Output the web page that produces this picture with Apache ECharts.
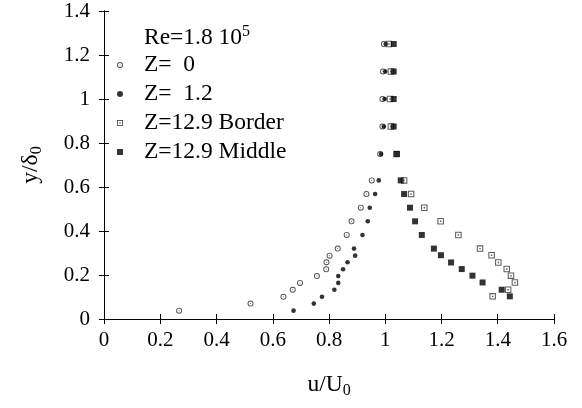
<!DOCTYPE html>
<html>
<head>
<meta charset="utf-8">
<script src="https://cdn.jsdelivr.net/npm/echarts@6/dist/echarts.min.js"></script>
<style>
  html, body { margin: 0; padding: 0; background: #fff; }
  #chart { width: 582px; height: 408px; }
</style>
</head>
<body>
<div id="chart"></div>
<script>
// y levels of the profiles (y/delta0)
const yCircles = [0.038, 0.070, 0.101, 0.133, 0.164, 0.195, 0.226, 0.258, 0.288, 0.320,
  0.382, 0.444, 0.506, 0.568, 0.630, 0.75, 0.875, 1.0, 1.125, 1.25]
const uZ0 = [0.267, 0.521, 0.638, 0.671, 0.697, 0.757, 0.790, 0.791, 0.802, 0.831,
  0.863, 0.880, 0.913, 0.933, 0.952, 0.982, 0.99, 0.99, 0.992, 0.995]
const uZ12 = [0.674, 0.746, 0.775, 0.819, 0.833, 0.833, 0.850, 0.866, 0.893, 0.889,
  0.919, 0.938, 0.945, 0.964, 0.977, 0.985, 0.995, 0.998, 1.0, 1.002]

const ySquares = [0.103, 0.133, 0.166, 0.197, 0.227, 0.257, 0.290, 0.320, 0.382,
  0.444, 0.506, 0.568, 0.630, 0.75, 0.875, 1.0, 1.125, 1.25]
const uBorder = [1.382, 1.437, 1.461, 1.447, 1.432, 1.402, 1.378, 1.337, 1.26,
  1.197, 1.139, 1.092, 1.067, 1.04, 1.02, 1.017, 1.02, 1.013]
const uMiddle = [1.443, 1.414, 1.346, 1.310, 1.272, 1.234, 1.198, 1.173, 1.130,
  1.106, 1.088, 1.067, 1.055, 1.041, 1.03, 1.03, 1.03, 1.03]

const xTicks = [0, 0.2, 0.4, 0.6, 0.8, 1, 1.2, 1.4, 1.6]
const yTicks = [0, 0.2, 0.4, 0.6, 0.8, 1, 1.2, 1.4]
const seriesNames = ['Z=  0', 'Z=  1.2', 'Z=12.9 Border', 'Z=12.9 Middle']

const font = 'Liberation Serif'
const fs = 21      // tick labels
const fsBig = 23.5 // legend, title, axis names
const ringCircle = 'path://M0,10A10,10,0,1,1,20,10A10,10,0,1,1,0,10ZM3,10A7,7,0,1,0,17,10A7,7,0,1,0,3,10ZM8.3,10A1.7,1.7,0,1,1,11.7,10A1.7,1.7,0,1,1,8.3,10Z'
const ringSquare = 'path://M0,0H20V20H0ZM3.2,3.2V16.8H16.8V3.2ZM7.8,7.8H12.2V12.2H7.8Z'
const fullSquare = 'path://M0,0H20V20H0Z'

function pairs(xs, ys) {
  return xs.map((x, i) => [x, ys[i]])
}

const chart = echarts.init(document.getElementById('chart'), null, {renderer: 'canvas'})

const tickStyle = {show: true, inside: true, length: 5, lineStyle: {color: '#000', width: 1}}
const lineStyle = {show: true, lineStyle: {color: '#000', width: 1}}
const subRich = {s: {fontFamily: font, fontSize: 16, color: '#000', padding: [12, 0, 0, 0]}}

const option = {
  animation: false,
  backgroundColor: '#fff',
  title: {
    text: 'Re=1.8 10{p|5}',
    left: 144,
    top: 24,
    padding: 0,
    textStyle: {
      fontFamily: font, fontSize: fsBig, fontWeight: 'normal', color: '#000',
      rich: {p: {fontFamily: font, fontSize: 16, color: '#000', padding: [0, 0, 12, 0]}}
    }
  },
  legend: {
    orient: 'vertical',
    left: 117,
    top: 52,
    padding: 0,
    itemWidth: 8,
    itemHeight: 6,
    itemGap: 3,
    selectedMode: false,
    textStyle: {fontFamily: font, fontSize: fsBig, color: '#000', lineHeight: 26, padding: [0, 0, 0, 15]},
    data: seriesNames
  },
  grid: {left: 104, right: 28, top: 11, bottom: 89, containLabel: false},
  xAxis: [
    {
      type: 'value', min: 0, max: 1.6, interval: 0.2, position: 'bottom',
      name: 'u/U{s|0}', nameLocation: 'middle', nameGap: 52,
      nameTextStyle: {fontFamily: font, fontSize: fsBig, color: '#000', rich: subRich},
      axisLine: lineStyle, axisTick: tickStyle, splitLine: {show: false},
      axisLabel: {
        fontFamily: font, fontSize: fs, color: '#000', margin: 11,
        formatter: v => xTicks.includes(+v.toFixed(1)) ? String(+v.toFixed(1)) : ''
      }
    },
    {
      type: 'value', min: 0, max: 1.6, interval: 0.2, position: 'top',
      axisLine: lineStyle, axisTick: tickStyle, axisLabel: {show: false}, splitLine: {show: false}
    }
  ],
  yAxis: [
    {
      type: 'value', min: 0, max: 1.4, interval: 0.2, position: 'left',
      name: 'y/δ{s|0}', nameLocation: 'middle', nameGap: 59, nameRotate: 90,
      nameTextStyle: {fontFamily: font, fontSize: fsBig, color: '#000', rich: subRich},
      axisLine: lineStyle, axisTick: tickStyle, splitLine: {show: false},
      axisLabel: {
        fontFamily: font, fontSize: fs, color: '#000', margin: 14,
        formatter: v => yTicks.includes(+v.toFixed(1)) ? String(+v.toFixed(1)) : ''
      }
    },
    {
      type: 'value', min: 0, max: 1.4, interval: 0.2, position: 'right',
      axisLine: lineStyle, axisTick: tickStyle, axisLabel: {show: false}, splitLine: {show: false}
    }
  ],
  series: [
    {
      name: seriesNames[0], type: 'scatter', symbol: ringCircle, symbolSize: 6,
      itemStyle: {color: '#222'}, data: pairs(uZ0, yCircles)
    },
    {
      name: seriesNames[1], type: 'scatter', symbol: 'circle', symbolSize: 4.6,
      itemStyle: {color: '#000'}, data: pairs(uZ12, yCircles)
    },
    {
      name: seriesNames[2], type: 'scatter', symbol: ringSquare, symbolSize: 6.5,
      itemStyle: {color: '#333'}, data: pairs(uBorder, ySquares)
    },
    {
      name: seriesNames[3], type: 'scatter', symbol: fullSquare, symbolSize: 6,
      itemStyle: {color: '#000'}, data: pairs(uMiddle, ySquares)
    }
  ]
}

chart.setOption(option)
</script>
</body>
</html>
